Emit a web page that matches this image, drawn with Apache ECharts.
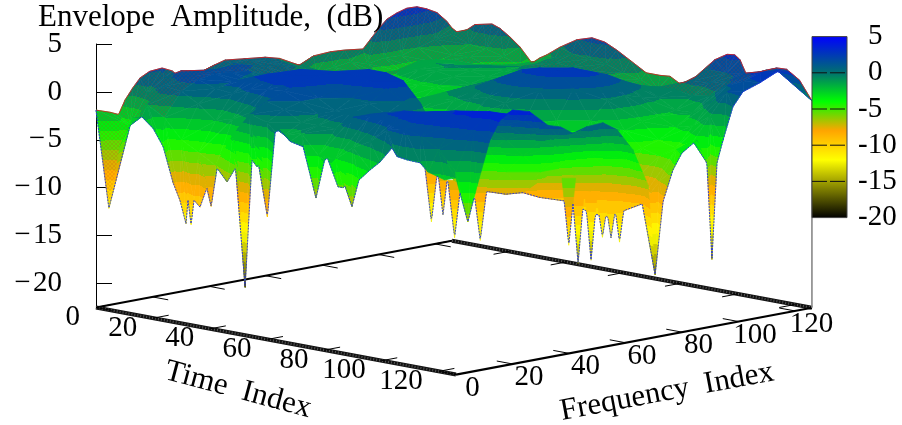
<!DOCTYPE html>
<html>
<head>
<meta charset="utf-8">
<style>html,body{margin:0;padding:0;background:#fff}#c{width:902px;height:425px}</style>
<script src="https://cdn.jsdelivr.net/npm/echarts@6/dist/echarts.min.js"></script>
</head>
<body>
<div id="c"></div>
<script>
// ---- values ----
const titleText = 'Envelope  Amplitude,  (dB)';
const zTicks = [-20, -15, -10, -5, 0, 5];
const timeTicks = [0, 20, 40, 60, 80, 100, 120];
const freqTicks = [0, 20, 40, 60, 80, 100, 120];
const timeMax = 126, freqMax = 126;
// grid nodes of the inner surface
const timeNodes = [6,12,18,24,30,36,42,48,54,60,66,72,78,84,90,96,102,108,114,120];
const freqNodes = [6,12,18,24,30,36,42,48,54,60,66,72,78,84,90,96,102,108,114,120];
// front edge at frequency 0
const edgeF0Time = [0,4.5,8.4,13,16,20,23.5,27,29.4,31.5,32.2,33.3,34.3,36.4,38.9,40.3,42.4,45.9,49.4,52.2,54.6,56.4,58,60,62.7,64.4,68,72.5,77,80,81,84.7,86.5,89,89.6,92,96,99.4,103.6,105.4,108.9,113.4,116.2,122,126];
const edgeF0Db = [-1.9,-11.9,-5.3,-2,-1.7,-2.7,-4.4,-8,-9.7,-12,-9.5,-12,-9.4,-10,-7.8,-9.7,-5.6,-6.85,-4.9,-17.5,-4.1,-4.7,-3.9,-9.7,-0.7,-0.4,-1.4,-1.7,-6.8,-2.7,-2.4,-5.2,-5.2,-4.4,-7,-4.1,-2.8,-1.8,-0.1,-0.9,-1.05,-1.1,-1.9,-2.4,-2];
// front edge at the last time index
const edgeTEndFreq = [4.2,7.4,12,15.6,20.2,26,32.6,37,41.4,46.4,52,57,62.6,68,70.5,73.3,76.8,80,85.3,88.8,90.6,92.4,94.5,98,101.6,107.6,113.6,118,121.6,126];
const edgeTEndDb = [-6.8,-3.3,1.3,3.2,4,3.5,1.7,1.3,0.4,0.8,0.9,-0.1,-2.5,-6.5,-16,-8.5,-5.4,-3.8,-2.75,-5.3,-15.5,-5.5,-3.3,0,1.4,2,2.8,2.6,1.5,-0.9];
// back edge at time 0
const edgeT0Freq = [0,5,8,10.3,13,15.6,19,23.4,27,29.7,32.2,35,38.6,42,45.7,52.7,60,65,72,77,83,88,94.5,97.7,100.5,103,106.5,110,113.6,117,120.7,124.2,126];
const edgeT0Db = [-1.9,-2.4,-2.8,-1.4,-0.3,0.6,1.1,1.2,0.7,-0.1,-0.85,-0.25,0.15,0.5,0.8,0.55,0.3,-0.1,-1.2,-0.5,-0.4,-0.5,-0.75,0.3,1.2,1.9,2.35,2.65,2.6,2.2,1.6,0.5,-0.3];
// back edge at the last frequency index
const edgeFEndTime = [1.7,5.2,8,11,14,16.8,20.3,23.8,28,30.8,33,37.8,43.7,49,53.5,57.7,62.3,68,72.8,76.3,80.5,82.3,85,87.9,92,96.3,99,100.8,103.2,110.3,113.8,117.3,120.8,123.5];
const edgeFEndDb = [-0.6,-0.2,0.5,0.7,0.9,0.6,-0.1,-0.95,-2.4,-1.7,-1.3,-0.2,0.9,1.4,1.2,0.6,-0.2,-1.2,-1.2,-1.1,-1.8,-2.4,-1,0.2,1.5,2.3,2.4,2,0.5,1.45,1.85,1.9,0.8,-0.1];
// rows: time index; columns: frequency index
const row006 = [-3.5,-0.5,0.8,1.2,0.6,0.6,1,1,0.6,0.1,-0.5,-1.6,-1.4,-1.2,-1.7,-1.4,-1.5,-1,-0.5,-0.3];
const row012 = [-1,0.6,1.2,1.5,1.3,1.4,1.1,0.7,0.4,-0.1,-0.7,-1.7,-2.2,-2.2,-2.6,-2.5,-2.5,-2.2,-1.8,-1];
const row018 = [-2,0.4,1.3,1.6,1.4,1.1,0.5,0,-0.5,-1,-1.4,-2.2,-2.7,-2.6,-1.7,-1.1,-1.3,-1.7,-1.6,-1.2];
const row024 = [-4,-0.6,0.7,1.1,0.7,0.2,-0.4,-1,-1.4,-1.7,-2.2,-3,-3.2,-2.4,-1.3,-1,-1.1,-1.9,-2.2,-1.6];
const row030 = [-5,-2,0.5,1.8,1.5,0.6,-0.5,-1.3,-1.7,-2,-2.7,-3.2,-3.2,-2.2,-1.1,-0.9,-1.1,-1.7,-2.2,-2.3];
const row036 = [-6,-1.5,1.2,2.5,2.3,1.3,0,-1,-1.8,-2.3,-2.9,-3.3,-3.2,-2.2,-1.4,-1.1,-0.9,-1.2,-1.4,-1.4];
const row042 = [-2.5,-0.5,1.6,2.8,3,2.2,1.2,0.2,-1,-1.9,-2.4,-2.9,-3,-2.4,-1.8,-1.4,-1.1,-1,-1,-0.8];
const row048 = [0,1,1.8,2.4,2.7,2.8,2.3,1.2,-0.3,-1.6,-1.7,-1.7,-1.7,-2,-2,-1.7,-1.2,-0.8,-0.6,0];
const row054 = [-0.5,0.5,1,1,1.5,2.8,3,1.8,-0.5,-2.2,-1.4,-0.8,-0.7,-1.4,-2,-2,-1.6,-1.1,-0.7,-0.2];
const row060 = [-1.5,-0.5,0,0,1,2.5,3,1.5,-4,-3,-1.2,-0.2,0.1,-0.6,-1.4,-2,-1.9,-1.2,-0.8,-0.4];
const row066 = [-1,-0.5,0.5,0,0.8,2,2.5,-2,-7,-4,-0.7,0.7,1,0.2,-0.8,-1.5,-2,-1.7,-1.2,-1];
const row072 = [-3,-0.5,1,0.5,0,1,0.5,-7,-5,-2,-0.2,1.5,2,1,-0.2,-1,-1.7,-2,-1.7,-1.4];
const row078 = [-3,1,1,0,-1.5,-1,-4,-6.5,-6,-3,-0.5,1.5,2.5,2,0.6,-0.4,-0.7,-1.4,-1.8,-2];
const row084 = [-1.5,1.5,1.5,0,-2,-4,-7,-7.5,-6.5,-4.5,-2.5,0.8,2.5,2.5,1.3,0.3,-0.2,-0.8,-1.4,-1.8];
const row090 = [-0.5,2,2,0.5,-2,-5,-7.5,-8,-8,-7,-5,-2,1,2.2,1.8,0.8,0,-0.5,-0.8,-0.4];
const row096 = [1,2.5,2.2,1,-1.5,-4,-7,-8,-8,-9,-9,-5.5,-2,-0.2,0,-0.5,-0.9,-0.4,0.2,1];
const row102 = [1.5,2.8,2.6,1.5,-0.5,-2.5,-5,-7.5,-6.5,-7.5,-9.5,-11,-6.5,-3,-2.4,-2.2,-1.9,-0.7,0.3,1];
const row108 = [1,2.8,3,2,0.5,-1,-3,-5,-5,-6,-8,-11,-8.5,-4.5,-4,-3,-1.8,-0.4,0.8,1.3];
const row114 = [0,2.5,3.3,2.7,1.3,-0.2,-1.2,-2,-2.8,-3.5,-5.5,-10,-9,-5,-4.5,-2.5,-0.5,1,1.8,1.8];
const row120 = [-2,2,3.6,3,2,0.5,-0.3,-0.3,-1.2,-2,-4,-9,-7,-4,-3.5,-1.2,1,1.8,2.4,2.2];
const zRows = [row006,row012,row018,row024,row030,row036,row042,row048,row054,row060,row066,row072,row078,row084,row090,row096,row102,row108,row114,row120];
// narrow nulls that hang below the surface
const nullTime = [64,73,83,90,119,110.7,110,113,115,116];
const nullFreq = [54,49,43,45,47,58.7,64,65,66,68];
const nullTipDb = [-13,-11.5,-13,-13,-12,-15,-15,-12.5,-12.5,-13];
const nullRimDb = [-7,-6.5,-7,-7,-5,-8,-8,-9,-9,-9];
const nullHalfWidth = [1.2,1,1.2,1.3,1.2,1,1.1,0.9,0.9,0.9];

// ---- view and style ----
const FONT = '"Liberation Serif", serif';
const SIZE = 29, BIG = 31;
const TX = 2.857, FX = 2.825, TY = 0.532, FY = 0.53, DBY = 9.58;
const palette = [[5,[0,0,255]],[0,[0,112,112]],[-4,[0,255,0]],[-8,[255,165,0]],[-12,[255,255,0]],[-20,[0,0,0]]];
const BAND = 1;

function color(z){
  z = Math.max(-20, Math.min(5, z));
  for (let i = 0; i < palette.length - 1; i++){
    const a = palette[i], b = palette[i+1];
    if (z <= a[0] && z >= b[0]){
      const k = (a[0]-z)/(a[0]-b[0]);
      return 'rgb(' + [0,1,2].map(c => Math.round(a[1][c]+(b[1][c]-a[1][c])*k)).join(',') + ')';
    }
  }
  return '#000';
}
const project = (t,f,z) => [t*TX + f*FX, z - (t*TY - f*FY)/DBY];

// ---- triangulate ----
const tris = [];
for (let i = 0; i < timeNodes.length-1; i++){
  for (let j = 0; j < freqNodes.length-1; j++){
    const p = (a,b) => [timeNodes[a], freqNodes[b], zRows[a][b]];
    tris.push([p(i,j),p(i+1,j),p(i+1,j+1)]);
    tris.push([p(i,j),p(i+1,j+1),p(i,j+1)]);
  }
}
const nT = timeNodes.length-1, nF = freqNodes.length-1;
function stitch(outer, inner, flip){
  let a = 0, b = 0;
  while (a < outer.length-1 || b < inner.length-1){
    const sa = a < outer.length-1 ? outer[a+1][0]+outer[a+1][1] : Infinity;
    const sb = b < inner.length-1 ? inner[b+1][0]+inner[b+1][1] : Infinity;
    let q;
    if (sa <= sb){ q = [outer[a],outer[a+1],inner[b]]; a++; }
    else { q = [outer[a],inner[b+1],inner[b]]; b++; }
    tris.push(flip ? [q[0],q[2],q[1]] : q);
  }
}
stitch(
  edgeF0Time.map((t,k) => [t,0,edgeF0Db[k]]).concat(edgeTEndFreq.map((f,k) => [timeMax,f,edgeTEndDb[k]])),
  timeNodes.map((t,i) => [t,freqNodes[0],zRows[i][0]]).concat(freqNodes.slice(1).map((f,j) => [timeNodes[nT],f,zRows[nT][j+1]])),
  false);
stitch(
  edgeT0Freq.map((f,k) => [0,f,edgeT0Db[k]]).concat(edgeFEndTime.map((t,k) => [t,freqMax,edgeFEndDb[k]])).concat([[timeMax,freqMax,edgeTEndDb[edgeTEndDb.length-1]]]),
  freqNodes.map((f,j) => [timeNodes[0],f,zRows[0][j]]).concat(timeNodes.slice(1).map((t,i) => [t,freqNodes[nF],zRows[i+1][nF]])),
  true);
nullTime.forEach((t,k) => {
  const f = nullFreq[k], w = nullHalfWidth[k];
  tris.push([[t-w,f-w,nullRimDb[k]],[t,f,nullTipDb[k]],[t+w,f+w,nullRimDb[k]]]);
});
const depth = q => (q[0][0]+q[1][0]+q[2][0]) - (q[0][1]+q[1][1]+q[2][1]);
tris.sort((p,q) => depth(p)-depth(q));
const triData = tris.map(q => [].concat(q[0],q[1],q[2]));

// ---- silhouettes ----
const uTop = {}, uBot = {};
tris.forEach(q => {
  for (let e = 0; e < 3; e++){
    const A = project(...q[e]), B = project(...q[(e+1)%3]);
    const lo = A[0] < B[0] ? A : B, hi = A[0] < B[0] ? B : A;
    for (let u = Math.ceil(lo[0]); u <= hi[0]; u++){
      const v = hi[0]===lo[0] ? lo[1] : lo[1]+(hi[1]-lo[1])*(u-lo[0])/(hi[0]-lo[0]);
      if (!(u in uTop) || v > uTop[u]) uTop[u] = v;
      if (!(u in uBot) || v < uBot[u]) uBot[u] = v;
    }
  }
});
const uKeys = Object.keys(uTop).map(Number).sort((a,b)=>a-b);

// fine red mesh seen on back slopes turned toward the viewer
const hatchTile = document.createElement('canvas');
hatchTile.width = hatchTile.height = 4;
{
  const g = hatchTile.getContext('2d');
  g.strokeStyle = 'rgba(205,40,30,0.22)';
  g.lineWidth = 0.7;
  g.beginPath();
  g.moveTo(0,0); g.lineTo(4,4);
  g.moveTo(4,0); g.lineTo(0,4);
  g.stroke();
}
const HATCH_T = 18, HATCH_F = 108;

function triShape(params, api){
  const pts = [], zs = [], ft = [];
  for (let k = 0; k < 3; k++){
    const t = api.value(3*k), f = api.value(3*k+1), z = api.value(3*k+2);
    pts.push(api.coord(project(t,f,z)));
    zs.push(z);
    ft.push([t,f]);
  }
  const [p0,p1,p2] = pts;
  const dx1 = p1[0]-p0[0], dy1 = p1[1]-p0[1], dx2 = p2[0]-p0[0], dy2 = p2[1]-p0[1];
  const det = dx1*dy2 - dx2*dy1;
  const floorDet = (ft[1][0]-ft[0][0])*(ft[2][1]-ft[0][1]) - (ft[2][0]-ft[0][0])*(ft[1][1]-ft[0][1]);
  const nearBack = ft.every(p => p[0] <= HATCH_T) || ft.every(p => p[1] >= HATCH_F);
  const hatched = nearBack && det*floorDet*(-TX*FY - FX*TY) > 0;
  const zlo = Math.min(...zs), zhi = Math.max(...zs);
  let fill;
  const band = z => (Math.floor(z/BAND)+0.5)*BAND;
  if (Math.abs(det) < 1e-3 || zhi - zlo < 1e-3 || Math.floor(zlo/BAND) === Math.floor(zhi/BAND)){
    fill = color(band((zlo+zhi)/2));
  } else {
    const dz1 = zs[1]-zs[0], dz2 = zs[2]-zs[0];
    const a = (dz1*dy2 - dz2*dy1)/det, b = (dx1*dz2 - dx2*dz1)/det;
    const g2 = a*a + b*b;
    const P = z => [p0[0] + (z-zs[0])*a/g2, p0[1] + (z-zs[0])*b/g2];
    const A = P(zlo), B = P(zhi);
    const stops = [];
    let cur = Math.floor(zlo/BAND)*BAND;
    stops.push({offset:0,color:color(cur+BAND/2)});
    for (let l = cur+BAND; l < zhi; l += BAND){
      const o = (l-zlo)/(zhi-zlo);
      stops.push({offset:o,color:color(l-BAND/2)});
      stops.push({offset:o,color:color(l+BAND/2)});
    }
    stops.push({offset:1,color:color(Math.floor((zhi-1e-6)/BAND)*BAND+BAND/2)});
    fill = new echarts.graphic.LinearGradient(A[0],A[1],B[0],B[1],stops,true);
  }
  const base = {type:'polygon',shape:{points:pts},style:{fill:fill,stroke:fill,lineWidth:0.7},silent:true};
  if (!hatched) return base;
  return {type:'group',children:[base,
    {type:'polygon',shape:{points:pts},style:{fill:{image:hatchTile,repeat:'repeat'},stroke:null},silent:true}]};
}

function frame(params, api){
  const P = (t,f) => api.coord(project(t,f,-22.5));
  const kids = [];
  const line = (a,b,w,c,dash) => kids.push({type:'line',shape:{x1:a[0],y1:a[1],x2:b[0],y2:b[1]},style:{stroke:c,lineWidth:w,lineDash:dash||null},silent:true});
  line(P(0,0),P(0,freqMax),2.2,'#000');
  line(P(0,freqMax),P(timeMax,freqMax),4,'#111');
  line(P(0,freqMax),P(timeMax,freqMax),2.4,'#555',[1,2]);
  line(P(0,0),P(timeMax,0),4,'#111');
  line(P(0,0),P(timeMax,0),2.4,'#555',[1,2]);
  line(P(timeMax,0),P(timeMax,freqMax),2.2,'#000');
  const base = P(timeMax,freqMax);
  line(base,api.coord(project(timeMax,freqMax,edgeTEndDb[edgeTEndDb.length-1])),1.6,'#888');
  const tick = 5.5;
  timeTicks.forEach(t => {
    line(P(t,0),P(t,tick),1,'#000');
    line(P(t,freqMax),P(t,freqMax-tick),1,'#000');
    const p = P(t,0);
    kids.push({type:'text',style:{text:String(t),x:p[0]-16,y:p[1]+10,align:'right',verticalAlign:'middle',font:SIZE+'px '+FONT,fill:'#000'},silent:true});
  });
  freqTicks.forEach(f => {
    line(P(timeMax,f),P(timeMax-tick,f),1,'#000');
    line(P(0,f),P(tick,f),1,'#000');
    const p = P(timeMax,f);
    kids.push({type:'text',style:{text:String(f),x:p[0]+16.5,y:p[1]+13.5,align:'center',verticalAlign:'middle',font:SIZE+'px '+FONT,fill:'#000'},silent:true});
  });
  return {type:'group',children:kids};
}

function outline(params, api){
  const top = uKeys.map(u => api.coord([u,uTop[u]]));
  const bot = uKeys.map(u => api.coord([u,uBot[u]]));
  return {type:'group',children:[
    {type:'polyline',shape:{points:top},style:{stroke:'#e01818',lineWidth:0.8,fill:null},silent:true},
    {type:'polyline',shape:{points:bot},style:{stroke:'#2030e0',lineWidth:0.9,fill:null,lineDash:[2,1]},silent:true}
  ]};
}

function colorBar(params, api){
  const a = api.coord([0,5]), b = api.coord([1,-20]);
  const stops = palette.map(q => ({offset:(5-q[0])/25,color:'rgb('+q[1].join(',')+')'}));
  const kids = [{type:'rect',shape:{x:a[0],y:a[1],width:b[0]-a[0],height:b[1]-a[1]},
    style:{fill:new echarts.graphic.LinearGradient(0,0,0,1,stops),stroke:'#444',lineWidth:1},silent:true}];
  zTicks.slice(1,5).forEach(z => {
    const l = api.coord([0,z]), r = api.coord([1,z]);
    kids.push({type:'line',shape:{x1:l[0],y1:l[1],x2:r[0],y2:r[1]},style:{stroke:'#111',lineWidth:1,lineDash:[15,3]},silent:true});
  });
  return {type:'group',children:kids};
}

const chart = echarts.init(document.getElementById('c'),null,{renderer:'canvas'});
chart.setOption({
  animation:false,
  backgroundColor:'#fff',
  title:{text:titleText,left:38,top:2,padding:0,textStyle:{fontFamily:FONT,fontSize:BIG,fontWeight:'normal',color:'#000'}},
  grid:[
    {left:96,width:716,top:44,height:263.5},
    {left:812,width:35,top:36.6,height:181}
  ],
  xAxis:[
    {gridIndex:0,type:'value',min:0,max:716,show:false},
    {gridIndex:1,type:'value',min:0,max:1,show:false}
  ],
  yAxis:[
    {gridIndex:0,type:'value',min:-22.5,max:5,position:'left',splitLine:{show:false},
     axisLine:{show:true,onZero:false,lineStyle:{color:'#000',width:1}},
     axisTick:{show:true,inside:true,length:16,customValues:zTicks,lineStyle:{color:'#000',width:1}},
     axisLabel:{show:true,customValues:zTicks,margin:34,fontFamily:FONT,fontSize:SIZE,color:'#000',formatter:v => String(v).replace('-','\u2212\u200A')}},
    {gridIndex:1,type:'value',min:-20,max:5,interval:5,position:'right',splitLine:{show:false},
     axisLine:{show:false},axisTick:{show:false},
     axisLabel:{show:true,margin:11,align:'left',fontFamily:FONT,fontSize:SIZE,color:'#000',
       formatter:v => v < 0 ? String(v) : '{p|'+v+'}',
       rich:{p:{padding:[0,0,0,10],fontFamily:FONT,fontSize:SIZE,color:'#000'}}}}
  ],
  series:[
    {type:'custom',name:'frame',xAxisIndex:0,yAxisIndex:0,data:[[0]],renderItem:frame,clip:false,silent:true,z:1},
    {type:'custom',name:'surface',xAxisIndex:0,yAxisIndex:0,data:triData,renderItem:triShape,clip:false,silent:true,progressive:0,z:2},
    {type:'custom',name:'outline',xAxisIndex:0,yAxisIndex:0,data:[[0]],renderItem:outline,clip:false,silent:true,z:3},
    {type:'custom',name:'colorbar',xAxisIndex:1,yAxisIndex:1,data:[[0]],renderItem:colorBar,clip:false,silent:true,z:4}
  ],
  graphic:[
    {type:'text',x:238,y:390,rotation:-15*Math.PI/180,style:{text:'Time  Index',font:BIG+'px '+FONT,fill:'#000',align:'center',verticalAlign:'middle'},silent:true,z:5},
    {type:'text',x:667,y:392,rotation:10.6*Math.PI/180,style:{text:'Frequency  Index',font:BIG+'px '+FONT,fill:'#000',align:'center',verticalAlign:'middle'},silent:true,z:5}
  ]
});
</script>
</body>
</html>
